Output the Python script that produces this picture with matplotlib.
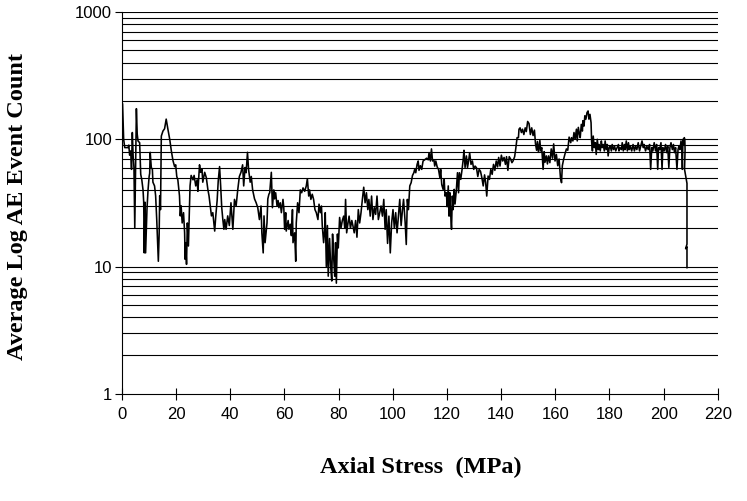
import matplotlib
matplotlib.use("Agg")
import matplotlib.pyplot as plt
from matplotlib.ticker import FixedLocator, NullFormatter, NullLocator

# axial stress (MPa) and average log AE event count
stress = [
    0.0, 0.3, 0.7, 1.1, 1.7, 2.3, 2.6, 2.9, 3.3, 3.6, 3.9, 4.2, 4.5, 4.8, 5.1, 5.4, 5.7, 6.0, 6.6, 7.0,
    7.4, 7.85, 8.1, 8.3, 8.6, 8.8, 9.3, 9.7, 10.1, 10.3, 10.5, 10.9, 11.3, 11.5, 12.1, 12.5, 12.9, 13.5, 13.8, 14.0,
    14.3, 14.6, 15.2, 15.8, 16.4, 17.0, 17.7, 18.3, 18.9, 19.5, 19.9, 20.3, 20.7, 21.3, 21.6, 21.9, 22.3, 22.8, 23.2, 23.4,
    23.6, 23.9, 24.2, 24.6, 25.0, 25.2, 25.6, 26.3, 26.7, 27.3, 27.8, 28.1, 28.7, 29.1, 29.6, 29.9, 30.6, 31.2, 31.8, 32.2,
    32.8, 33.1, 33.6, 34.3, 34.7, 35.2, 35.6, 36.1, 36.5, 36.9, 37.3, 37.7, 38.0, 38.5, 39.1, 39.7, 40.3, 41.0, 41.6, 42.2,
    42.8, 43.4, 44.0, 44.6, 45.0, 45.5, 45.9, 46.4, 46.8, 47.4, 47.8, 48.3, 49.0, 49.6, 50.2, 50.8, 51.4, 51.7, 52.2, 52.5,
    52.9, 53.6, 53.9, 54.3, 54.6, 55.2, 55.6, 56.1, 56.4, 56.8, 57.3, 57.7, 58.0, 58.5, 58.9, 59.5, 59.8, 60.1, 60.5, 60.7,
    61.4, 61.7, 62.2, 62.6, 63.0, 63.2, 63.8, 64.2, 64.4, 64.9, 65.4, 65.9, 66.4, 66.9, 67.5, 68.1, 68.5, 69.0, 69.3, 69.8,
    70.3, 70.8, 71.3, 71.8, 72.4, 72.8, 73.3, 73.7, 74.0, 74.5, 74.9, 75.1, 75.5, 75.9, 76.2, 76.7, 77.1, 77.5, 77.8, 78.2,
    78.6, 78.9, 79.2, 79.6, 79.9, 80.4, 80.9, 81.4, 81.9, 82.3, 82.6, 83.0, 83.5, 83.9, 84.4, 84.9, 85.3, 85.8, 86.3, 86.8,
    87.3, 87.8, 88.3, 88.8, 89.3, 89.8, 90.3, 90.8, 91.2, 91.7, 92.2, 92.7, 93.2, 93.7, 94.2, 94.7, 95.2, 95.7, 96.2, 96.7,
    97.2, 97.6, 98.1, 98.6, 99.1, 99.6, 100.1, 100.6, 101.1, 101.6, 102.1, 102.6, 103.1, 103.6, 104.0, 104.6, 105.0, 105.4, 105.8, 106.3,
    106.8, 107.3, 107.8, 108.1, 108.5, 109.0, 109.4, 109.7, 110.2, 110.7, 111.2, 111.8, 112.5, 113.1, 113.4, 113.9, 114.3, 114.7, 115.2, 115.5,
    115.9, 116.4, 116.9, 117.4, 117.7, 118.1, 118.6, 119.0, 119.3, 119.8, 120.1, 120.5, 120.8, 121.1, 121.3, 121.7, 122.0, 122.3, 122.7, 123.0,
    123.5, 123.9, 124.3, 124.6, 125.1, 125.6, 126.0, 126.3, 126.7, 127.2, 127.6, 128.0, 128.4, 128.9, 129.4, 129.9, 130.4, 130.9, 131.4, 131.9,
    132.4, 132.9, 133.4, 133.9, 134.3, 134.7, 135.2, 135.7, 136.2, 136.7, 137.2, 137.7, 138.2, 138.7, 139.1, 139.6, 140.1, 140.6, 141.1, 141.6,
    142.0, 142.5, 143.0, 143.5, 144.0, 144.4, 145.0, 145.4, 145.9, 146.4, 146.6, 147.0, 147.5, 147.9, 148.4, 148.9, 149.3, 149.8, 150.3, 150.8,
    151.3, 151.8, 152.3, 152.7, 153.1, 153.4, 153.8, 154.3, 154.6, 155.0, 155.5, 155.9, 156.2, 156.7, 157.1, 157.5, 158.0, 158.5, 159.0, 159.4,
    159.9, 160.4, 160.9, 161.4, 161.9, 162.3, 162.6, 163.1, 163.6, 164.1, 164.6, 165.1, 165.7, 166.0, 166.5, 166.9, 167.3, 167.8, 168.1, 168.5,
    168.9, 169.2, 169.6, 170.0, 170.2, 170.6, 170.9, 171.3, 171.7, 172.1, 172.4, 172.8, 173.2, 173.4, 173.7, 174.0, 174.4, 174.8, 175.1, 175.5,
    175.9, 176.2, 176.6, 177.0, 177.3, 177.7, 178.1, 178.4, 178.8, 179.2, 179.5, 179.9, 180.3, 180.7, 181.0, 181.5, 181.9, 182.3, 182.8, 183.3,
    183.5, 183.9, 184.4, 184.7, 185.1, 185.5, 185.8, 186.2, 186.6, 187.0, 187.3, 187.7, 188.2, 188.7, 189.2, 189.6, 190.1, 190.6, 191.1, 191.5,
    192.0, 192.5, 192.8, 193.3, 193.8, 194.3, 194.8, 195.2, 195.6, 196.0, 196.5, 197.0, 197.4, 197.8, 198.1, 198.5, 199.0, 199.4, 199.7, 200.2,
    200.7, 201.1, 201.5, 201.9, 202.3, 202.7, 203.2, 203.6, 204.0, 204.4, 204.9, 205.3, 205.6, 206.0, 206.4, 206.7, 206.9, 207.1, 207.4, 207.6,
    207.8, 207.9, 207.7, 208.6, 208.6, 208.1, 208.6, 208.6,
]
counts = [
    195, 190, 100, 86, 86, 86, 90, 75, 81, 58, 113, 74, 60, 20, 60, 174, 110, 97, 94, 53,
    48, 40, 32, 12.8, 32, 12.8, 28, 40, 51, 54, 79, 60, 58, 46, 43, 36, 23.5, 11, 18, 36,
    28, 106, 116, 121, 144, 121, 100, 81, 68, 61, 63, 51, 48, 36, 25, 30, 22, 26.5, 18.4, 11.4,
    15.4, 10.4, 22, 14.5, 30, 43, 52, 48, 52, 43, 48, 39, 63, 55, 58, 46, 55, 50, 40, 36,
    28, 25, 26.5, 19, 25, 33, 47, 61, 43, 29, 23.4, 19.6, 23.4, 19.6, 25, 21, 31.7, 19.6, 33.7, 29.9,
    40, 51, 55, 63, 43, 60, 54.6, 79, 58, 46, 51, 40, 34, 31.7, 29, 23.4, 29.9, 18.4, 12.8, 25,
    15.4, 22, 34, 37, 38, 55, 29, 40, 34, 38, 30, 33, 29, 31.7, 26.5, 33.7, 29, 19.6, 26.5, 19,
    23, 19.6, 21.5, 17.5, 28, 15.4, 18.4, 11, 22, 31.7, 26.5, 40, 38, 41.5, 39, 43, 49, 35.8, 40, 33.7,
    37, 33.7, 28, 26.5, 23.4, 30.9, 26.5, 29.9, 21, 15.4, 19.6, 26.5, 10, 21, 8.4, 16.6, 10, 7.7, 18, 11.8,
    8.4, 15.4, 7.4, 18, 14, 24.3, 20, 23, 24.9, 20, 33.7, 18.4, 22, 24.9, 20, 23, 21, 18.4, 23, 17,
    28, 22, 26.5, 33.7, 42, 31.7, 38, 28, 33.7, 24.9, 35.8, 23.4, 29, 25.7, 35.8, 23.4, 26.5, 29.9, 24.9, 33.7,
    19.6, 28, 15.2, 24.9, 12.8, 22, 28, 20, 26.5, 18.4, 24.9, 33.7, 21, 28, 33.7, 22, 14.9, 33.7, 28, 43,
    45.6, 52, 54.6, 58, 54.6, 63.5, 67.5, 57, 62, 58, 67.5, 69, 71, 69, 78.5, 67.5, 84, 67.5, 69, 61.6,
    67.5, 60.7, 58, 49.9, 58, 44, 40.4, 48.4, 35.8, 38, 29.5, 43, 24.9, 38, 28, 19.6, 35.8, 28, 40.4, 31,
    40.4, 54.6, 38, 54.6, 48.4, 58, 69, 82, 60, 74, 60, 67.5, 78, 63.5, 67.5, 58, 61.6, 59.8, 51, 58,
    56, 49.9, 43, 52.5, 45.6, 35.8, 51.4, 48.4, 58, 53, 63.5, 57, 67.5, 60.7, 72, 61.6, 75, 67.5, 72, 63.5,
    73, 57, 73, 70, 65.5, 67.5, 73, 84, 103, 103, 120, 123, 113, 120, 109, 123, 115, 138, 133, 109,
    123, 107, 118, 92, 82, 96, 79, 98, 81, 86, 58, 80, 66, 74, 64, 74, 65.5, 84, 71, 92,
    67.5, 76, 62, 70, 50, 45.6, 62, 70, 77, 84, 82, 104, 94, 103, 97, 113, 100, 120, 97, 124,
    110, 103, 131, 116, 140, 127, 153, 144, 162, 167, 144, 157, 135, 97, 81, 106, 86, 94, 76, 100,
    83, 91, 81, 97, 86, 91, 81, 97, 83, 91, 74, 86, 88, 81, 91, 83, 88, 81, 86, 91,
    81, 86, 83, 94, 81, 91, 83, 97, 81, 94, 83, 88, 81, 91, 81, 88, 83, 94, 81, 88,
    97, 86, 91, 81, 88, 83, 91, 58, 86, 81, 94, 81, 91, 58, 86, 83, 94, 58, 86, 81,
    91, 78.5, 88, 60, 86, 94, 83, 91, 78.5, 86, 58, 83, 88, 83, 97, 86, 58, 100, 91, 103,
    100, 83, 58, 45, 15, 13.8, 14.3, 9.8,
]

x_ticks = [0, 20, 40, 60, 80, 100, 120, 140, 160, 180, 200, 220]
y_ticks = [1, 10, 100, 1000]

plt.rcParams['font.family'] = ['Liberation Sans', 'DejaVu Sans']

fig = plt.figure(figsize=(7.47, 5.01), dpi=100)
ax = fig.add_axes([0.163, 0.214, 0.798, 0.762])

ax.plot(stress, counts, color='black', linewidth=1.15)

ax.set_yscale('log')
ax.set_ylim(1, 1000)
ax.set_xlim(0, 220)

# horizontal lines at every decade step
grid_vals = [m * 10 ** d for d in range(0, 3) for m in range(2, 11)]
for g in grid_vals:
    ax.axhline(g, color='black', linewidth=0.8, zorder=0)

ax.xaxis.set_major_locator(FixedLocator(x_ticks))
ax.yaxis.set_major_locator(FixedLocator(y_ticks))
ax.yaxis.set_minor_locator(NullLocator())
ax.yaxis.set_minor_formatter(NullFormatter())
ax.set_yticklabels([str(v) for v in y_ticks])

ax.tick_params(axis='x', direction='inout', length=9, width=0.8, labelsize=12, pad=5)
ax.tick_params(axis='y', direction='out', length=5, width=0.8, labelsize=12, pad=2)

ax.spines['top'].set_visible(False)
ax.spines['right'].set_visible(False)
ax.spines['left'].set_linewidth(0.8)
ax.spines['bottom'].set_linewidth(0.8)

ax.set_xlabel('Axial Stress  (MPa)', family='Liberation Serif', fontweight='bold', fontsize=17.5)
ax.set_ylabel('Average Log AE Event Count', family='Liberation Serif', fontweight='bold', fontsize=17.5)
ax.xaxis.set_label_coords(0.502, -0.165)
ax.yaxis.set_label_coords(-0.157, 0.49)

fig.savefig('out.png', dpi=100)
